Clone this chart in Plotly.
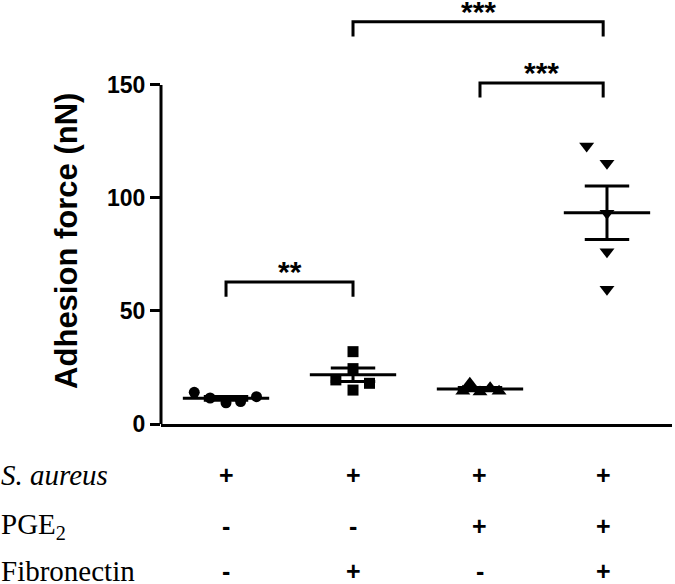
import numpy as np
import plotly.graph_objects as go

# ---------------- data ----------------
groups = ["G1", "G2", "G3", "G4"]
g1_values = [14.0, 11.5, 9.4, 9.9, 12.1]
g2_values = [32.0, 24.5, 19.5, 18.0, 15.0]
g3_values = [14.5, 18.0, 14.2, 16.0, 14.5]
g4_values = [123.0, 115.3, 93.2, 76.2, 59.6]

row_labels = ["<i>S. aureus</i>", "PGE<sub>2</sub>", "Fibronectin"]
s_aureus = ["+", "+", "+", "+"]
pge2 = ["-", "-", "+", "+"]
fibronectin = ["-", "+", "-", "+"]

comparisons = [(0, 1, "**"), (2, 3, "***"), (1, 3, "***")]
y_ticks = [0, 50, 100, 150]
y_title = "Adhesion force (nN)"

# ---------------- styling / layout ----------------
all_values = [g1_values, g2_values, g3_values, g4_values]
symbols = ["circle", "square", "triangle-up", "triangle-down"]
marker_sizes = [11, 11, 13, 13]
jitter = [
    [-0.25, -0.125, 0.0, 0.115, 0.24],
    [0.0, 0.0, -0.135, 0.13, 0.0],
    [-0.135, -0.08, 0.0, 0.08, 0.15],
    [-0.16, 0.0, 0.0, 0.0, 0.0],
]
group_x = [1, 2, 3, 4]
mean_half = 0.34
sem_half = 0.175
bracket_levels = [62.8, 150.9, 177.9]
bracket_drop = 6.5
title_y = 81
BLACK = "#000000"

fig = go.Figure()

for gi, vals in enumerate(all_values):
    v = np.array(vals)
    xc = group_x[gi]
    xs = [xc + j for j in jitter[gi]]
    fig.add_trace(go.Scatter(
        x=xs, y=vals, mode="markers",
        marker=dict(symbol=symbols[gi], size=marker_sizes[gi], color=BLACK,
                    line=dict(width=0)),
        showlegend=False, cliponaxis=False))
    mean = v.mean()
    sem = v.std(ddof=1) / np.sqrt(len(v))
    fig.add_trace(go.Scatter(
        x=[xc - mean_half, xc + mean_half], y=[mean, mean], mode="lines",
        line=dict(color=BLACK, width=3), showlegend=False))
    fig.add_trace(go.Scatter(
        x=[xc, xc, None, xc - sem_half, xc + sem_half, None,
           xc - sem_half, xc + sem_half],
        y=[mean - sem, mean + sem, None, mean + sem, mean + sem, None,
           mean - sem, mean - sem],
        mode="lines", line=dict(color=BLACK, width=3), showlegend=False))

shapes = []
annotations = []
for (a, b, stars), lvl in zip(comparisons, bracket_levels):
    xa, xb = group_x[a], group_x[b]
    if b == 3:
        xb = xb - 0.03
    shapes.append(dict(type="path", xref="x", yref="y",
                       path=f"M {xa},{lvl - bracket_drop} L {xa},{lvl} L {xb},{lvl} L {xb},{lvl - bracket_drop}",
                       line=dict(color=BLACK, width=3)))
    annotations.append(dict(x=(xa + xb) / 2, y=lvl, xref="x", yref="y",
                            text=f"<b>{stars}</b>", showarrow=False, yanchor="bottom",
                            yshift=-8,
                            font=dict(family="Liberation Sans, Arial", size=30, color=BLACK)))

# y axis line (0..150)
shapes.append(dict(type="line", xref="paper", yref="y", x0=0, x1=0, y0=0, y1=150,
                   line=dict(color=BLACK, width=3)))

# y axis title
annotations.append(dict(x=-0.184, y=title_y, xref="paper", yref="y",
                        text=f"<b>{y_title}</b>", textangle=-90, showarrow=False,
                        xanchor="center", yanchor="middle",
                        font=dict(family="Liberation Sans, Arial", size=31, color=BLACK)))

# condition table below the axis
row_y = [-0.122, -0.242, -0.349]
for ri, (lab, signs) in enumerate(zip(row_labels, [s_aureus, pge2, fibronectin])):
    annotations.append(dict(x=-0.318, y=row_y[ri], xref="paper", yref="paper",
                            text=lab, showarrow=False, xanchor="left", yanchor="middle",
                            font=dict(family="Liberation Serif, Times New Roman", size=29, color=BLACK)))
    for gi, s in enumerate(signs):
        annotations.append(dict(x=group_x[gi] - (0.03 if gi == 3 else 0), y=row_y[ri],
                                xref="x", yref="paper", text=f"<b>{s}</b>", showarrow=False,
                                yanchor="middle",
                                font=dict(family="Liberation Sans, Arial", size=25, color=BLACK)))

fig.update_layout(
    width=675, height=584,
    margin=dict(l=161, r=3, t=4, b=160),
    plot_bgcolor="white", paper_bgcolor="white",
    shapes=shapes, annotations=annotations,
    xaxis=dict(range=[0.488, 4.512], showgrid=False, zeroline=False,
               showticklabels=False, ticks="", showline=True,
               linecolor=BLACK, linewidth=3),
    yaxis=dict(range=[0, 185.8], showgrid=False, zeroline=False, showline=False,
               tickvals=y_ticks, ticks="outside", ticklen=10, tickwidth=3,
               tickcolor=BLACK,
               tickfont=dict(family="Liberation Sans, Arial", size=23, color=BLACK,
                             weight="bold")),
)

fig.write_html("out.html", config={"displayModeBar": False},
               post_script="document.body.style.margin='0';")
